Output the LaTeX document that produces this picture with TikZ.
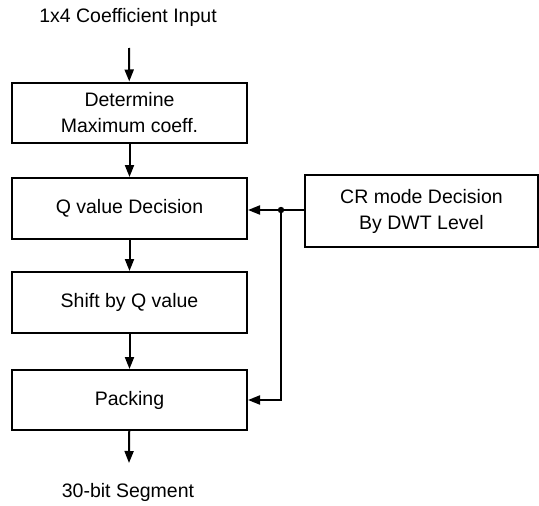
\documentclass[tikz,border=0pt]{standalone}
\usepackage{fontspec}
\setmainfont{Liberation Sans}
\usetikzlibrary{arrows.meta}

\begin{document}
\begin{tikzpicture}[x=1pt, y=1pt, line width=2pt,
  every node/.style={font=\fontsize{19.5}{26}\selectfont},
  block/.style={draw, align=center, minimum width=235pt, minimum height=60pt, inner sep=0pt},
  flow/.style={-{Triangle[length=12pt,width=9pt]}}]
\useasboundingbox (0,0) rectangle (539,-506);
% stages
\node (title) at (128,-17) {1x4 Coefficient Input};
\coordinate (in) at (129,-48);
\node[block] (maxc) at (129.5,-112.5) {Determine\\Maximum coeff.};
\node[block, minimum height=61pt] (qval) at (129.5,-208.5) {Q value Decision};
\node[block, minimum height=61pt] (shift) at (129.5,-302.5) {Shift by Q value};
\node[block] (pack) at (129.5,-400) {Packing};
\coordinate (out) at (129,-463);
\node (seg) at (128,-492) {30-bit Segment};
% mode decision
\node[block, minimum width=233pt, minimum height=72pt] (crmode) at (421.5,-211) {CR mode Decision\\By DWT Level};
\coordinate (split) at (281,-210);
\coordinate (down) at (281,-400);
% connectors
\draw[flow] (in) -- (maxc);
\draw[flow] (maxc) -- (qval);
\draw[flow] (qval) -- (shift);
\draw[flow] (shift) -- (pack);
\draw[flow] (pack) -- (out);
\draw[flow] (crmode.west |- split) -- (split) -- (qval.east |- split);
\draw[flow] (split) -- (down) -- (pack.east |- down);
\fill (split) circle (3.2pt);
\end{tikzpicture}
\end{document}
